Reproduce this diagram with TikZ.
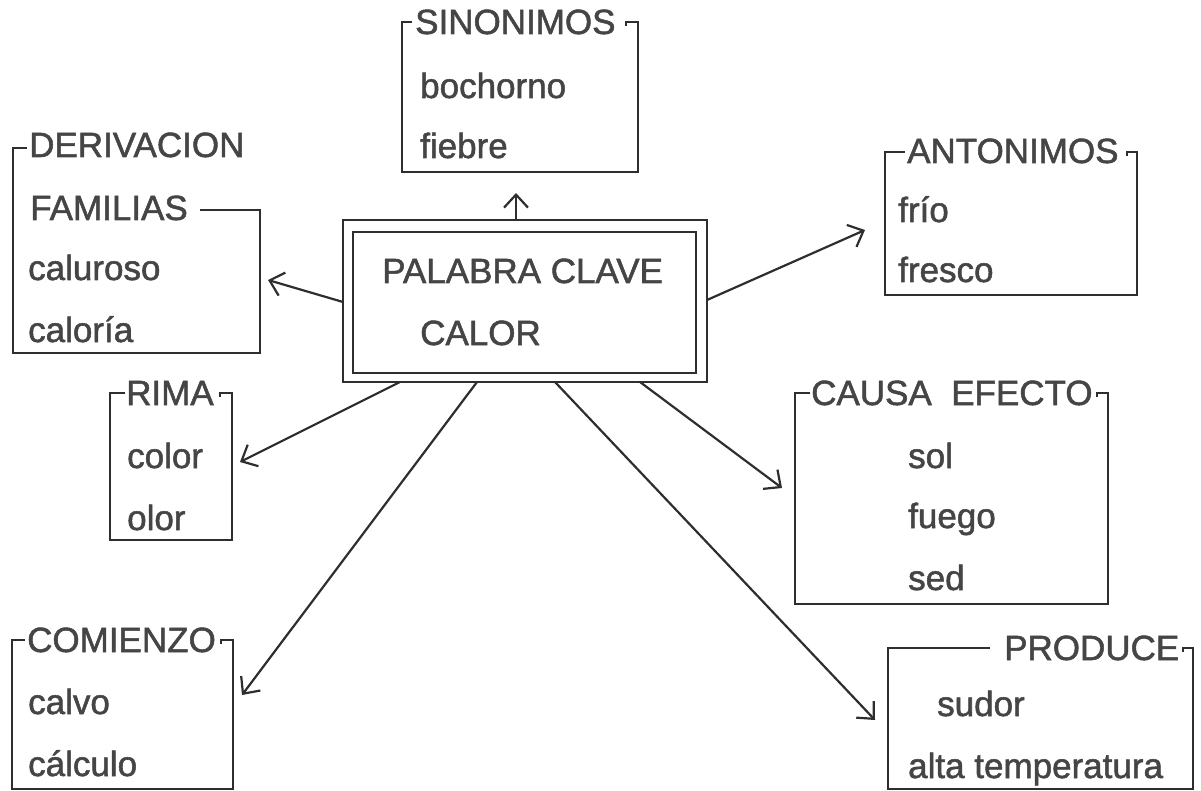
\documentclass[tikz,border=0pt]{standalone}
\usepackage{fontspec}
\setmainfont{Liberation Sans}[FakeBold=1.5]
\usetikzlibrary{arrows.meta}
\definecolor{ink}{HTML}{2E2E2E}
\definecolor{txt}{HTML}{454545}
\tikzset{
  lbl/.style={anchor=base west, inner sep=0pt, text=txt, font=\fontsize{35}{42}\selectfont},
  frame/.style={draw=ink, line width=2.4pt, line join=miter},
  arr/.style={draw=ink, line width=2.2pt, -{Straight Barb[length=13pt,width=24pt,line width=2.2pt]}},
}
\begin{document}
\begin{tikzpicture}[x=1pt,y=-1pt]
\useasboundingbox (0,0) rectangle (1201,791);
% central key box
\node[minimum width=364pt, minimum height=162pt, inner sep=0pt] (key) at (525,301) {};
\draw[frame] (343,220) rectangle (707,382);
\draw[frame] (353,232) rectangle (696,373);
\node[lbl] (k1) at (382,283) {PALABRA CLAVE};
\node[lbl] (k2) at (420,345) {CALOR};

% SINONIMOS
\draw[frame] (412,22) -- (402,22) -- (402,172) -- (638,172) -- (638,22) -- (626,22) -- (626,26);
\node[lbl] (sin) at (415,34) {SINONIMOS};
\node[lbl] (sin1) at (420,98) {bochorno};
\node[lbl] (sin2) at (420,158) {fiebre};
\coordinate (sinT) at (516,193);

% DERIVACION
\draw[frame] (27,148) -- (13,148) -- (13,353) -- (260,353) -- (260,210) -- (200,210);
\node[lbl] (der) at (29,157) {DERIVACION};
\node[lbl] (der0) at (30,220) {FAMILIAS};
\node[lbl] (der1) at (28,280) {caluroso};
\node[lbl] (der2) at (28,342) {caloría};
\coordinate (derT) at (268,280);

% ANTONIMOS
\draw[frame] (905,152) -- (885,152) -- (885,295) -- (1137,295) -- (1137,152) -- (1127,152) -- (1127,156);
\node[lbl] (ant) at (907,163) {ANTONIMOS};
\node[lbl] (ant1) at (898,222) {frío};
\node[lbl] (ant2) at (898,282) {fresco};
\coordinate (antT) at (865,230);

% RIMA
\draw[frame] (125,393) -- (110,393) -- (110,540) -- (232,540) -- (232,393) -- (220,393) -- (220,397);
\node[lbl] (rim) at (126,405) {RIMA};
\node[lbl] (rim1) at (127,468) {color};
\node[lbl] (rim2) at (127,530) {olor};
\coordinate (rimT) at (240,462);

% CAUSA EFECTO
\draw[frame] (810,393) -- (795,393) -- (795,604) -- (1108,604) -- (1108,393) -- (1097,393) -- (1097,397);
\node[lbl] (cau) at (811,405) {CAUSA\ \ EFECTO};
\node[lbl] (cau1) at (908,468) {sol};
\node[lbl] (cau2) at (908,528) {fuego};
\node[lbl] (cau3) at (908,590) {sed};
\coordinate (cauT) at (782,488);

% COMIENZO
\draw[frame] (25,640) -- (12,640) -- (12,789) -- (233,789) -- (233,640) -- (221,640) -- (221,644);
\node[lbl] (com) at (27,652) {COMIENZO};
\node[lbl] (com1) at (28,714) {calvo};
\node[lbl] (com2) at (28,776) {cálculo};
\coordinate (comT) at (242,695);

% PRODUCE
\draw[frame] (990,648) -- (888,648) -- (888,789) -- (1193,789) -- (1193,648) -- (1183,648) -- (1183,652);
\node[lbl] (pro) at (1004,660) {PRODUCE};
\node[lbl] (pro1) at (937,716) {sudor};
\node[lbl] (pro2) at (908,778) {alta temperatura};
\coordinate (proT) at (875,720);

% arrow start points on the key box
\coordinate (kN) at (516,220);
\coordinate (kW) at (343,302);
\coordinate (kE) at (707,300);
\coordinate (kS1) at (400,382);
\coordinate (kS2) at (477,382);
\coordinate (kS3) at (555,382);
\coordinate (kS4) at (640,382);

\draw[arr] (kN) -- (sinT);
\draw[arr] (kW) -- (derT);
\draw[arr] (kE) -- (antT);
\draw[arr] (kS1) -- (rimT);
\draw[arr] (kS2) -- (comT);
\draw[arr] (kS3) -- (proT);
\draw[arr] (kS4) -- (cauT);
\end{tikzpicture}
\end{document}
